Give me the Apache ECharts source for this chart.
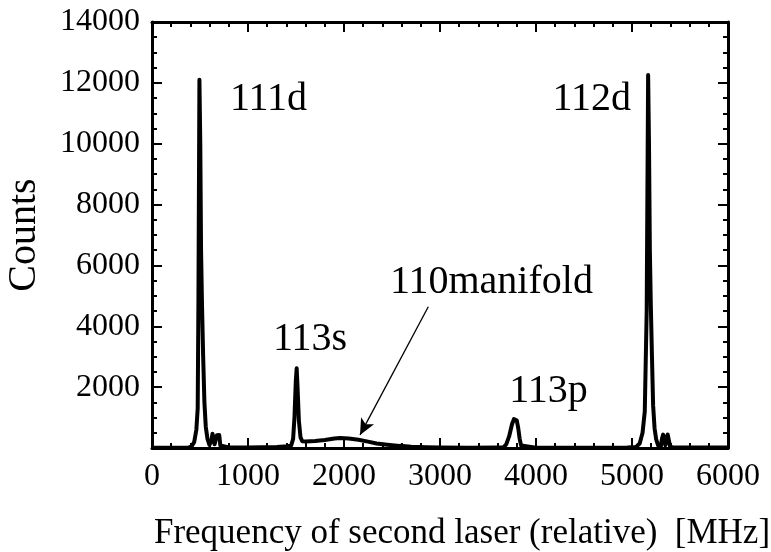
<!DOCTYPE html>
<html>
<head>
<meta charset="utf-8">
<script src="https://cdn.jsdelivr.net/npm/echarts@6/dist/echarts.min.js"></script>
<style>
  html, body { margin: 0; padding: 0; background: #fff; }
  #chart { width: 771px; height: 552px; }
</style>
</head>
<body>
<div id="chart"></div>
<script>
// Photo-ionisation spectrum: counts versus second-laser frequency (MHz, relative)
const frequency = [
  0, 200, 380,
  410, 440, 462, 476, 484, 494, 503, 511, 521, 533, 546, 560, 578, 598, 612,
  620, 630, 642, 652, 664, 676, 688, 700, 712, 730,
  800, 1000, 1300, 1420,
  1450, 1470, 1484, 1498, 1507, 1516, 1530, 1547, 1565,
  1600, 1700, 1800, 1900, 1960, 2050, 2150, 2250, 2340, 2450, 2580, 2700, 2860, 3000, 3300, 3600,
  3660, 3690, 3720, 3750, 3770, 3785, 3800, 3815, 3830, 3845, 3865,
  4000, 4500, 4950,
  5040, 5080, 5110, 5133, 5153, 5168, 5177, 5186, 5196, 5208, 5220, 5235, 5252, 5272, 5290,
  5300, 5312, 5324, 5336, 5348, 5360, 5372, 5384, 5396, 5420, 6000
];
const counts = [
  10, 10, 20,
  40, 200, 600, 1300, 5000, 12100, 10000, 6500, 4700, 3000, 1500, 700, 300, 100, 40,
  250, 470, 450, 120, 60, 420, 470, 430, 80, 20,
  20, 20, 30, 60,
  80, 300, 1000, 2200, 2620, 2000, 900, 350, 220,
  210, 230, 260, 310, 330, 310, 270, 210, 150, 110, 70, 45, 25, 15, 10, 15,
  20, 120, 380, 780, 950, 980, 900, 650, 300, 80, 20,
  10, 10, 15,
  30, 150, 500, 1200, 4500, 12260, 10000, 6500, 4700, 3000, 1400, 650, 280, 90, 40, 40,
  300, 440, 400, 90, 350, 440, 400, 60, 20, 15, 10
];

// x axis ticks (MHz) and y axis ticks (counts)
const xTicks = [0, 1000, 2000, 3000, 4000, 5000, 6000];
const yTicks = [0, 2000, 4000, 6000, 8000, 10000, 12000, 14000];

// Peak annotations, placed in data coordinates
const peakNames  = ['111d', '112d', '113s', '110manifold', '113p'];
const peakLabelX = [1214, 4580, 1646, 3536, 4130];
const peakLabelY = [11440, 11440, 3550, 5440, 1870];

// Arrow from the manifold label to the broad bump
const arrowFrom = [2878, 4640];
const arrowTo   = [2167, 430];

const serif = "'Liberation Serif', 'Times New Roman', serif";
const xStep = xTicks[1] - xTicks[0];
const yStep = yTicks[1] - yTicks[0];

const lineData = frequency.map((f, i) => [f, counts[i]]);
const labelData = peakNames.map((n, i) => ({ name: n, value: [peakLabelX[i], peakLabelY[i]] }));

function plain(v) { return String(v); }

function makeX(position, showLabel) {
  return {
    type: 'value', position: position,
    min: xTicks[0], max: xTicks[xTicks.length - 1], interval: xStep,
    axisLine: { show: true, onZero: false, lineStyle: { color: '#000', width: 3 } },
    axisTick: { show: true, inside: true, length: 10, lineStyle: { color: '#000', width: 2 } },
    minorTick: { show: true, splitNumber: 5, length: 5, lineStyle: { color: '#000', width: 2 } },
    axisLabel: { show: showLabel, formatter: plain, color: '#000', fontFamily: serif, fontSize: 32, margin: 13 },
    splitLine: { show: false },
    minorSplitLine: { show: false }
  };
}
function makeY(position, showLabel) {
  return {
    type: 'value', position: position,
    min: yTicks[0], max: yTicks[yTicks.length - 1], interval: yStep,
    axisLine: { show: true, onZero: false, lineStyle: { color: '#000', width: 3 } },
    axisTick: { show: true, inside: true, length: 10, lineStyle: { color: '#000', width: 2 } },
    minorTick: { show: true, splitNumber: 4, length: 5, lineStyle: { color: '#000', width: 2 } },
    axisLabel: { show: showLabel, showMinLabel: false, formatter: plain, color: '#000', fontFamily: serif, fontSize: 32, margin: 12 },
    splitLine: { show: false },
    minorSplitLine: { show: false }
  };
}

const xBottom = makeX('bottom', true);
xBottom.name = 'Frequency of second laser (relative)  [MHz]';
xBottom.nameLocation = 'middle';
xBottom.nameGap = 68;
xBottom.nameTextStyle = { color: '#000', fontFamily: serif, fontSize: 35, padding: [0, 0, 0, 44] };

const yLeft = makeY('left', true);
yLeft.name = 'Counts';
yLeft.nameLocation = 'middle';
yLeft.nameGap = 108;
yLeft.nameTextStyle = { color: '#000', fontFamily: serif, fontSize: 40 };

const chart = echarts.init(document.getElementById('chart'));
chart.setOption({
  backgroundColor: '#fff',
  animation: false,
  grid: { left: 152, right: 43, top: 22, bottom: 104, containLabel: false, outerBoundsMode: 'none' },
  xAxis: [xBottom, makeX('top', false)],
  yAxis: [yLeft, makeY('right', false)],
  series: [
    {
      type: 'line',
      data: lineData,
      xAxisIndex: 0, yAxisIndex: 0,
      showSymbol: false,
      smooth: false,
      lineStyle: { color: '#000', width: 4, join: 'round' },
      z: 3
    },
    {
      type: 'scatter',
      data: labelData,
      xAxisIndex: 0, yAxisIndex: 0,
      symbolSize: 0,
      itemStyle: { color: '#000' },
      label: {
        show: true, position: 'inside', formatter: '{b}',
        color: '#000', textBorderWidth: 0, opacity: 1,
        fontFamily: serif, fontSize: 40
      },
      markLine: {
        silent: true,
        symbol: ['none', 'arrow'],
        symbolSize: [11, 16],
        label: { show: false },
        lineStyle: { color: '#000', width: 1.3, type: 'solid', opacity: 1 },
        data: [[{ coord: arrowFrom }, { coord: arrowTo }]]
      },
      z: 4
    }
  ]
});
</script>
</body>
</html>
